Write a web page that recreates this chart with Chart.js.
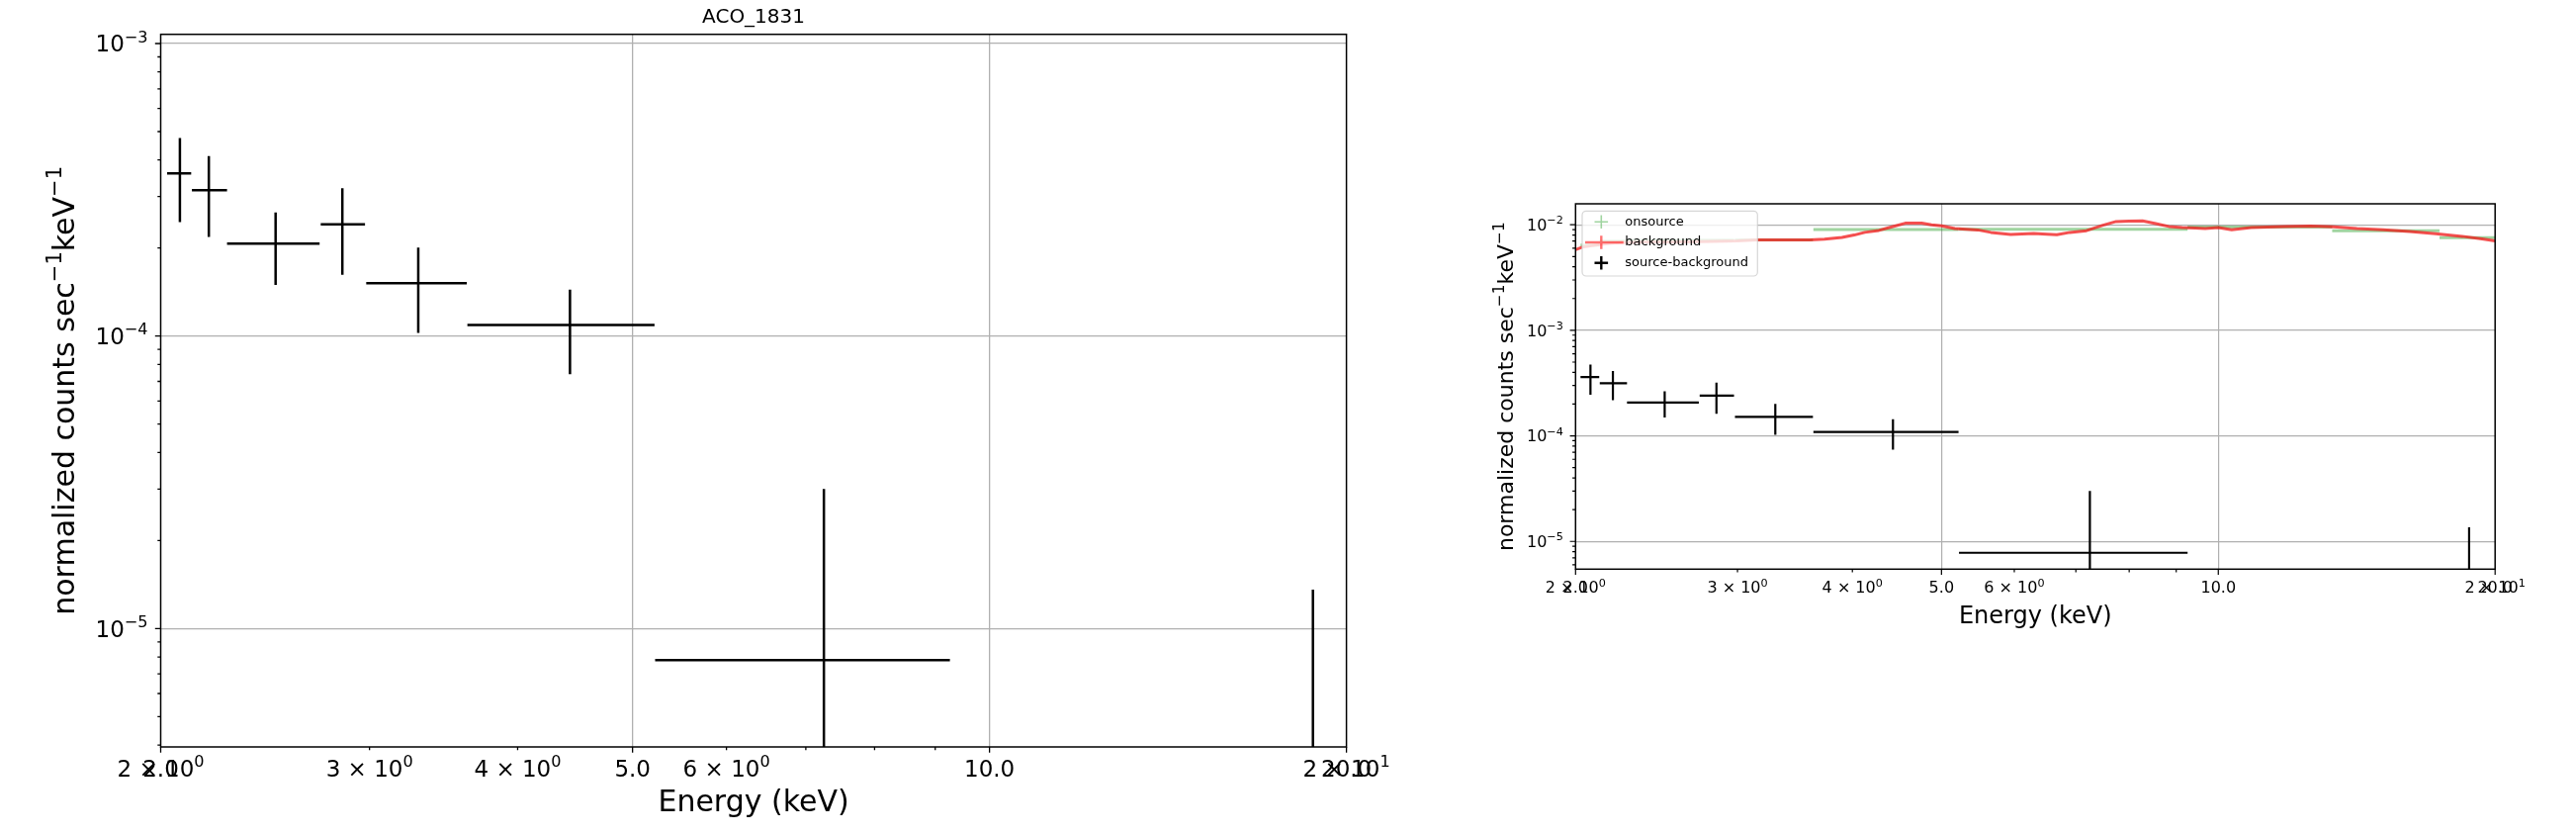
<!DOCTYPE html>
<html>
<head>
<meta charset="utf-8">
<script src="https://cdn.jsdelivr.net/npm/chart.js@4.4.1/dist/chart.umd.min.js"></script>
<style>
  html, body { margin: 0; padding: 0; background: #fff; }
  body { width: 2605px; height: 843px; position: relative; overflow: hidden; }
  canvas { position: absolute; top: 0; }
  #cLeft { left: 0; }
  #cRight { left: 1460px; }
</style>
</head>
<body>
<canvas id="cLeft" width="1460" height="843"></canvas>
<canvas id="cRight" width="1145" height="843"></canvas>
<script>
// ---- datos ----

// source-background (cruces negras): bin de energía (keV) y tasa normalizada
const binLo   = [2.025, 2.125, 2.275, 2.729, 2.981, 3.628, 5.224, 17.4];
const binHi   = [2.122, 2.275, 2.723, 2.974, 3.624, 5.218, 9.26, 20.2];
const binMid  = [2.076, 2.196, 2.50, 2.846, 3.298, 4.428, 7.25, 18.74];
const netRate = [3.60e-4, 3.15e-4, 2.07e-4, 2.41e-4, 1.515e-4, 1.09e-4, 7.8e-6, 2.0e-6];
const netErr  = [1.15e-4, 0.97e-4, 0.575e-4, 0.79e-4, 0.49e-4, 0.35e-4, 2.22e-5, 1.16e-5];

// onsource (verde)
const onLo   = [2.025, 2.125, 2.275, 2.729, 2.981, 3.628, 5.224, 9.26, 13.3, 17.4];
const onHi   = [2.122, 2.275, 2.723, 2.974, 3.624, 5.218, 9.26, 13.3, 17.4, 20.2];
const onRate = [6.4e-3, 7.0e-3, 7.1e-3, 7.15e-3, 7.2e-3, 9.0e-3, 9.05e-3, 9.5e-3, 8.78e-3, 7.55e-3];

// background (rojo)
const bgEnergy = [2.00, 2.033, 2.084, 2.152, 2.206, 2.359, 2.541, 2.737, 3.00, 3.152,
                  3.337, 3.594, 3.730, 3.897, 4.018, 4.126, 4.274, 4.417, 4.566, 4.758,
                  4.877, 5.00, 5.169, 5.475, 5.658, 5.945, 6.12, 6.30, 6.511, 6.674,
                  6.897, 7.188, 7.492, 7.743, 7.996, 8.272, 8.549, 8.835, 9.133, 9.441,
                  9.677, 10.0, 10.34, 10.86, 11.80, 12.60, 13.35, 14.15, 15.11, 16.15,
                  17.24, 18.42, 19.36, 20.0];
const bgRate = [5.80e-3, 6.13e-3, 6.33e-3, 6.58e-3, 6.75e-3, 6.83e-3, 6.83e-3, 6.93e-3, 7.02e-3, 7.17e-3,
                7.17e-3, 7.17e-3, 7.31e-3, 7.60e-3, 7.99e-3, 8.47e-3, 8.84e-3, 9.58e-3, 1.035e-2, 1.035e-2,
                1.000e-2, 9.79e-3, 9.23e-3, 8.94e-3, 8.47e-3, 8.11e-3, 8.20e-3, 8.29e-3, 8.15e-3, 8.06e-3,
                8.47e-3, 8.79e-3, 9.91e-3, 1.074e-2, 1.085e-2, 1.090e-2, 1.028e-2, 9.64e-3, 9.43e-3, 9.33e-3,
                9.23e-3, 9.43e-3, 8.98e-3, 9.43e-3, 9.64e-3, 9.70e-3, 9.58e-3, 9.23e-3, 8.98e-3, 8.65e-3,
                8.23e-3, 7.77e-3, 7.33e-3, 7.05e-3];

// ejes ( ^{..} = superíndice, como en mathtext )
const xTickValues = [2, 2, 3, 4, 5, 6, 7, 8, 9, 10, 20, 20];
const xTickLabels = ['2 × 10^{0}', '2.0', '3 × 10^{0}', '4 × 10^{0}', '5.0', '6 × 10^{0}', '', '', '', '10.0', '2 × 10^{1}', '20.0'];
const xMajor = [2, 5, 10, 20];
const yDecades = [1e-6, 1e-5, 1e-4, 1e-3, 1e-2];
const yDecadeLabels = ['10^{−6}', '10^{−5}', '10^{−4}', '10^{−3}', '10^{−2}'];
const yTitle = 'normalized counts sec^{−1}keV^{−1}';
const legendLabels = ['onsource', 'background', 'source-background'];

const FONT = "'DejaVu Sans', sans-serif";
const FLOOR = 1e-9; // los extremos negativos se recortan fuera del eje log

// ---- helpers ----

// cruces de error: segmento horizontal + vertical, separados por nulls
function crossSegments(lo, hi, mid, val, err) {
    const pts = [];
    for (let i = 0; i < mid.length; i++) {
        pts.push({ x: lo[i], y: val[i] }, { x: hi[i], y: val[i] }, { x: mid[i], y: null });
        pts.push({ x: mid[i], y: Math.max(val[i] - err[i], FLOOR) }, { x: mid[i], y: val[i] + err[i] }, { x: mid[i], y: null });
    }
    return pts;
}

function barSegments(lo, hi, val) {
    const pts = [];
    for (let i = 0; i < val.length; i++) {
        pts.push({ x: lo[i], y: val[i] }, { x: hi[i], y: val[i] }, { x: hi[i], y: null });
    }
    return pts;
}

function yTicksFor(min, max) {
    const out = [];
    yDecades.forEach((d, i) => {
        for (let m = 1; m <= 9; m++) {
            const v = d * m;
            if (v >= min * 0.999 && v <= max * 1.001) out.push({ value: v, label: m === 1 ? yDecadeLabels[i] : '' });
        }
    });
    return out;
}

const isDecade = v => Math.abs(Math.log10(v) - Math.round(Math.log10(v))) < 1e-6;

// texto con superíndices: base a tamaño normal, ^{..} al 70% y elevado
function drawMath(ctx, label, x, y, size, align) {
    const parts = label.split(/(\^\{[^}]*\})/).filter(s => s).map(s =>
        s.startsWith('^{') ? { t: s.slice(2, -1), sup: true } : { t: s, sup: false });
    const supSize = size * 0.7;
    let total = 0;
    parts.forEach(p => {
        ctx.font = `${p.sup ? supSize : size}px ${FONT}`;
        p.w = ctx.measureText(p.t).width;
        total += p.w;
    });
    let cx = align === 'right' ? x - total : align === 'center' ? x - total / 2 : x;
    ctx.textAlign = 'left';
    ctx.textBaseline = 'alphabetic';
    parts.forEach(p => {
        ctx.font = `${p.sup ? supSize : size}px ${FONT}`;
        ctx.fillText(p.t, cx, p.sup ? y - size * 0.42 : y);
        cx += p.w;
    });
}

// marco, marcas de tick, etiquetas de tick y título del eje y
const axesFrame = {
    id: 'axesFrame',
    afterDraw(chart, args, o) {
        const { ctx, chartArea: a, scales } = chart;
        ctx.save();
        ctx.strokeStyle = '#000';
        ctx.fillStyle = '#000';
        ctx.lineWidth = o.tickWidth;
        ctx.beginPath();
        scales.x.ticks.forEach(t => {
            const px = scales.x.getPixelForValue(t.value);
            const len = xMajor.includes(t.value) ? o.majorLen : o.minorLen;
            ctx.moveTo(px, a.bottom);
            ctx.lineTo(px, a.bottom + len);
        });
        scales.y.ticks.forEach(t => {
            const py = scales.y.getPixelForValue(t.value);
            const len = isDecade(t.value) ? o.majorLen : o.minorLen;
            ctx.moveTo(a.left, py);
            ctx.lineTo(a.left - len, py);
        });
        ctx.stroke();
        ctx.lineWidth = o.frameWidth;
        ctx.strokeRect(a.left, a.top, a.right - a.left, a.bottom - a.top);

        scales.x.ticks.forEach(t => {
            if (!t.label) return;
            drawMath(ctx, t.label, scales.x.getPixelForValue(t.value), a.bottom + o.xBase, o.tickSize, 'center');
        });
        scales.y.ticks.forEach(t => {
            if (!t.label) return;
            const py = scales.y.getPixelForValue(t.value);
            drawMath(ctx, t.label, a.left - o.yPad, py + o.tickSize * 0.36, o.tickSize, 'right');
        });

        ctx.save();
        ctx.translate(o.yTitleX, (a.top + a.bottom) / 2);
        ctx.rotate(-Math.PI / 2);
        drawMath(ctx, yTitle, 0, 0, o.yTitleSize, 'center');
        ctx.restore();

        if (o.title) {
            ctx.font = `${o.titleSize}px ${FONT}`;
            ctx.textAlign = 'center';
            ctx.textBaseline = 'middle';
            ctx.fillText(o.title, (a.left + a.right) / 2, o.titleY);
        }
        ctx.restore();
    }
};

// leyenda estilo matplotlib dentro del área
const panelLegend = {
    id: 'panelLegend',
    afterDraw(chart, args, o) {
        if (!o.show) return;
        const { ctx, chartArea: a } = chart;
        const x0 = a.left + 6.7, y0 = a.top + 7.3, w = 177.3, h = 65.7;
        ctx.save();
        ctx.beginPath();
        ctx.roundRect(x0, y0, w, h, 4);
        ctx.fillStyle = 'rgba(255,255,255,0.8)';
        ctx.fill();
        ctx.strokeStyle = 'rgba(204,204,204,0.8)';
        ctx.lineWidth = 1.2;
        ctx.stroke();

        const handles = [
            { color: 'rgba(44,160,44,0.45)', lw: 1.6, line: false },
            { color: 'rgba(255,0,0,0.55)', lw: 2.4, line: true },
            { color: '#000', lw: 2.4, line: false }
        ];
        const mx = x0 + 19.3, s = 6.8;
        ctx.font = `13px ${FONT}`;
        ctx.textBaseline = 'middle';
        ctx.textAlign = 'left';
        legendLabels.forEach((txt, i) => {
            const cy = y0 + 11 + i * 20.7;
            const hd = handles[i];
            ctx.strokeStyle = hd.color;
            ctx.lineWidth = hd.lw;
            ctx.beginPath();
            if (hd.line) { ctx.moveTo(x0 + 3, cy); ctx.lineTo(x0 + 41.7, cy); }
            else { ctx.moveTo(mx - s, cy); ctx.lineTo(mx + s, cy); }
            ctx.moveTo(mx, cy - s);
            ctx.lineTo(mx, cy + s);
            ctx.stroke();
            ctx.fillStyle = '#000';
            ctx.fillText(txt, x0 + 43.3, cy);
        });
        ctx.restore();
    }
};

function makePanel(id, p) {
    const yTicks = yTicksFor(p.yMin, p.yMax);
    const grid = { drawTicks: false, lineWidth: p.gridWidth };
    return new Chart(document.getElementById(id), {
        type: 'line',
        data: { datasets: p.datasets },
        options: {
            responsive: false,
            animation: false,
            events: [],
            layout: { padding: p.padding },
            elements: { point: { radius: 0, hitRadius: 0, hoverRadius: 0 }, line: { tension: 0, fill: false } },
            scales: {
                x: {
                    type: 'logarithmic',
                    min: 2, max: 20,
                    bounds: 'data',
                    border: { display: false },
                    grid: { ...grid, color: c => (c.tick && (c.tick.value === 5 || c.tick.value === 10)) ? '#b0b0b0' : 'rgba(0,0,0,0)' },
                    afterBuildTicks: s => { s.ticks = xTickValues.map(v => ({ value: v })); },
                    afterFit: s => { s.height = p.xHeight; },
                    ticks: { display: false, autoSkip: false, callback: (v, i) => xTickLabels[i] },
                    title: {
                        display: true, text: 'Energy (keV)', color: '#000',
                        font: { family: FONT, size: p.xTitleSize },
                        padding: { top: 0, bottom: p.xTitlePad }
                    }
                },
                y: {
                    type: 'logarithmic',
                    min: p.yMin, max: p.yMax,
                    bounds: 'data',
                    border: { display: false },
                    grid: { ...grid, color: c => (c.tick && isDecade(c.tick.value)) ? '#b0b0b0' : 'rgba(0,0,0,0)' },
                    afterBuildTicks: s => { s.ticks = yTicks.map(t => ({ value: t.value })); },
                    afterFit: s => { s.width = p.yWidth; },
                    ticks: { display: false, autoSkip: false, callback: (v, i) => yTicks[i].label },
                    title: { display: false }
                }
            },
            plugins: {
                legend: { display: false },
                tooltip: { enabled: false },
                axesFrame: p.frame,
                panelLegend: { show: p.legend }
            }
        },
        plugins: [axesFrame, panelLegend]
    });
}

const netSet = w => ({
    label: 'source-background',
    data: crossSegments(binLo, binHi, binMid, netRate, netErr),
    borderColor: '#000', borderWidth: w, spanGaps: false, order: 0
});

// ---- panel izquierdo: ACO_1831 ----
makePanel('cLeft', {
    yMin: 3.94e-6, yMax: 1.075e-3,
    padding: { left: 0, top: 34.7, right: 1460 - 1361.6, bottom: 0 },
    xHeight: 88, yWidth: 162.5,
    xTitleSize: 30, xTitlePad: 13,
    gridWidth: 1.3,
    frame: {
        frameWidth: 1.5, tickWidth: 1.3, majorLen: 5.7, minorLen: 3.2,
        tickSize: 23, xBase: 29.5, yPad: 13,
        yTitleX: 74.6, yTitleSize: 30,
        title: 'ACO_1831', titleSize: 20, titleY: 18
    },
    legend: false,
    datasets: [netSet(2.5)]
});

// ---- panel derecho: onsource / background / source-background ----
makePanel('cRight', {
    yMin: 5.46e-6, yMax: 1.58e-2,
    padding: { left: 0, top: 206, right: 1145 - 1063.2, bottom: 843 - 575.3 - 80 },
    xHeight: 80, yWidth: 133.3,
    xTitleSize: 24, xTitlePad: 16.9,
    gridWidth: 1.2,
    frame: {
        frameWidth: 1.5, tickWidth: 1.2, majorLen: 5.7, minorLen: 3.2,
        tickSize: 16, xBase: 24, yPad: 12.5,
        yTitleX: 69.8, yTitleSize: 22
    },
    legend: true,
    datasets: [
        netSet(2.2),
        {
            label: 'background',
            data: bgEnergy.map((e, i) => ({ x: e, y: bgRate[i] })),
            borderColor: 'rgba(240,20,20,0.75)', borderWidth: 3, borderJoinStyle: 'round', order: 1
        },
        {
            label: 'onsource',
            data: barSegments(onLo, onHi, onRate),
            borderColor: 'rgba(44,160,44,0.45)', borderWidth: 3, spanGaps: false, order: 2
        }
    ]
});
</script>
</body>
</html>
